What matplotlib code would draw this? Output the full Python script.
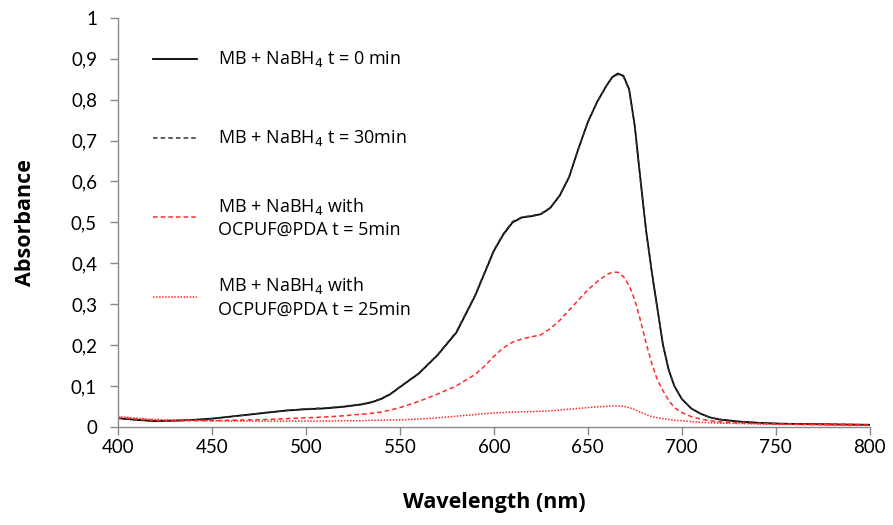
import matplotlib
matplotlib.use("Agg")
import matplotlib.pyplot as plt
from matplotlib.lines import Line2D
from matplotlib.ticker import FuncFormatter

plt.rcParams['font.family'] = ['Open Sans', 'DejaVu Sans']

# wavelength grid (nm)
wavelength = [400, 410, 420, 430, 440, 450, 460, 470, 480, 490, 500, 510, 520,
              530, 535, 540, 545, 550, 560, 570, 580, 590, 595, 600, 605, 610,
              615, 620, 625, 630, 635, 640, 645, 650, 655, 660, 663, 666, 669,
              672, 675, 678, 681, 684, 687, 690, 693, 696, 700, 705, 710, 715,
              720, 730, 740, 750, 760, 780, 800]

# MB + NaBH4, t = 0 min
abs_t0 = [0.021, 0.017, 0.014, 0.015, 0.017, 0.020, 0.025, 0.030, 0.035, 0.040,
          0.043, 0.045, 0.049, 0.055, 0.060, 0.068, 0.080, 0.097, 0.130, 0.175,
          0.230, 0.320, 0.375, 0.430, 0.470, 0.500, 0.512, 0.515, 0.520, 0.535,
          0.565, 0.610, 0.680, 0.745, 0.795, 0.835, 0.855, 0.864, 0.858, 0.825,
          0.735, 0.605, 0.480, 0.380, 0.290, 0.200, 0.140, 0.100, 0.068, 0.045,
          0.032, 0.023, 0.018, 0.013, 0.010, 0.008, 0.007, 0.006, 0.005]

# MB + NaBH4, t = 30 min
abs_t30 = [0.022, 0.017, 0.014, 0.015, 0.017, 0.020, 0.025, 0.030, 0.036, 0.040,
           0.044, 0.046, 0.050, 0.056, 0.061, 0.069, 0.081, 0.098, 0.131, 0.176,
           0.232, 0.322, 0.377, 0.432, 0.472, 0.502, 0.513, 0.516, 0.521, 0.536,
           0.566, 0.611, 0.680, 0.745, 0.794, 0.834, 0.854, 0.862, 0.856, 0.823,
           0.733, 0.603, 0.478, 0.378, 0.288, 0.199, 0.139, 0.100, 0.068, 0.045,
           0.032, 0.023, 0.018, 0.013, 0.010, 0.008, 0.007, 0.006, 0.005]

# MB + NaBH4 with OCPUF@PDA, t = 5 min
abs_pda5 = [0.023, 0.019, 0.016, 0.015, 0.015, 0.015, 0.016, 0.017, 0.018, 0.020,
            0.022, 0.024, 0.027, 0.031, 0.033, 0.036, 0.041, 0.047, 0.062, 0.080,
            0.100, 0.128, 0.148, 0.172, 0.193, 0.207, 0.215, 0.220, 0.225, 0.240,
            0.260, 0.285, 0.310, 0.335, 0.355, 0.372, 0.378, 0.378, 0.367, 0.345,
            0.310, 0.260, 0.205, 0.155, 0.115, 0.088, 0.065, 0.047, 0.035, 0.025,
            0.019, 0.015, 0.012, 0.010, 0.008, 0.007, 0.006, 0.005, 0.004]

# MB + NaBH4 with OCPUF@PDA, t = 25 min
abs_pda25 = [0.025, 0.021, 0.018, 0.017, 0.016, 0.015, 0.014, 0.014, 0.014, 0.014,
             0.014, 0.014, 0.015, 0.015, 0.016, 0.016, 0.017, 0.017, 0.019, 0.022,
             0.026, 0.030, 0.032, 0.034, 0.035, 0.036, 0.037, 0.037, 0.038, 0.039,
             0.041, 0.043, 0.045, 0.047, 0.049, 0.050, 0.051, 0.051, 0.050, 0.047,
             0.042, 0.036, 0.030, 0.025, 0.022, 0.020, 0.018, 0.016, 0.015, 0.013,
             0.011, 0.010, 0.009, 0.008, 0.007, 0.006, 0.006, 0.005, 0.004]

labels = ['MB + NaBH$_4$ t = 0 min',
          'MB + NaBH$_4$ t = 30min',
          'MB + NaBH$_4$ with\nOCPUF@PDA t = 5min',
          'MB + NaBH$_4$ with\nOCPUF@PDA t = 25min']

series = [abs_t0, abs_t30, abs_pda5, abs_pda25]
styles = [dict(color='black', lw=1.3, ls='-'),
          dict(color='#333333', lw=1.1, ls=(0, (3, 2))),
          dict(color='#ff2a2a', lw=1.1, ls=(0, (3, 2))),
          dict(color='#ff2a2a', lw=1.1, ls=(0, (1, 1)))]

fig = plt.figure(figsize=(8.93, 5.25), dpi=100)
ax = fig.add_axes([0.132, 0.187, 0.842, 0.779])

for vals, st in zip(series, styles):
    ax.plot(wavelength, vals, **st)

ax.set_xlim(400, 800)
ax.set_ylim(0, 1)
ax.set_xticks(range(400, 801, 50))
ax.set_yticks([i / 10 for i in range(11)])
ax.yaxis.set_major_formatter(FuncFormatter(
    lambda v, p: '0' if v == 0 else ('1' if v == 1 else f'{v:.1f}'.replace('.', ','))))

for side in ['top', 'right']:
    ax.spines[side].set_visible(False)
for side in ['left', 'bottom']:
    ax.spines[side].set_color('#898989')
    ax.spines[side].set_linewidth(1.0)
ax.tick_params(axis='both', colors='#898989', labelcolor='black', labelsize=13.5,
               direction='out', length=6, width=1.0)
ax.tick_params(axis='y', pad=9)
ax.tick_params(axis='x', pad=3)
for lab in ax.get_xticklabels() + ax.get_yticklabels():
    lab.set_family(['Lato', 'DejaVu Sans'])

ax.set_xlabel('Wavelength (nm)', fontsize=15.5, fontweight='bold', labelpad=26)
ax.set_ylabel('Absorbance', fontsize=15.5, fontweight='bold', labelpad=25)

# legend drawn as a column of samples with evenly spaced rows
top, step = 0.900, 0.194
for i, (lab, st) in enumerate(zip(labels, styles)):
    y = top - i * step
    ax.add_line(Line2D([0.0465, 0.105], [y, y], transform=ax.transAxes, **st))
    ax.text(0.133, y, lab, transform=ax.transAxes, fontsize=13, va='center',
            ha='left', linespacing=1.3)

fig.savefig('out.png', dpi=100)
